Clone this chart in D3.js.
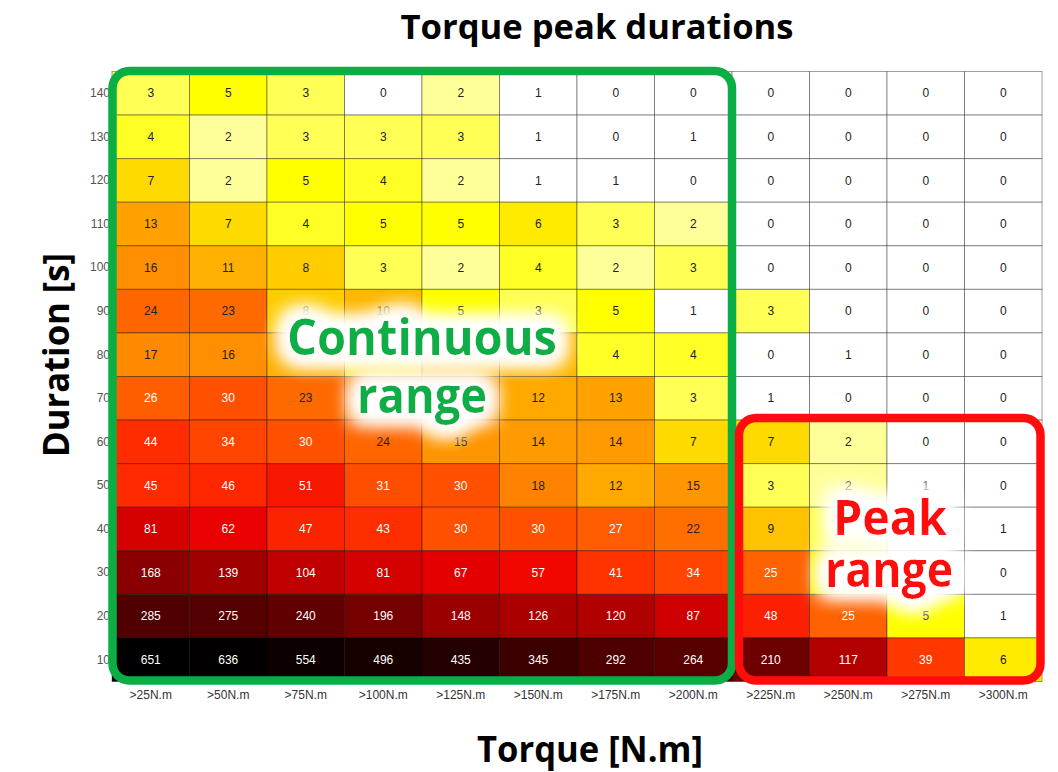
<!DOCTYPE html>
<html>
<head>
<meta charset="utf-8">
<script src="https://cdn.jsdelivr.net/npm/d3@7"></script>
<style>
  html, body { margin: 0; padding: 0; background: #fff; }
  svg { display: block; }
</style>
</head>
<body>
<div id="chart"></div>
<script>
// ---- Data ----
const torqueLabels = [">25N.m", ">50N.m", ">75N.m", ">100N.m", ">125N.m", ">150N.m",
  ">175N.m", ">200N.m", ">225N.m", ">250N.m", ">275N.m", ">300N.m"];
const durations = [140, 130, 120, 110, 100, 90, 80, 70, 60, 50, 40, 30, 20, 10];

const d140 = [3, 5, 3, 0, 2, 1, 0, 0, 0, 0, 0, 0];
const d130 = [4, 2, 3, 3, 3, 1, 0, 1, 0, 0, 0, 0];
const d120 = [7, 2, 5, 4, 2, 1, 1, 0, 0, 0, 0, 0];
const d110 = [13, 7, 4, 5, 5, 6, 3, 2, 0, 0, 0, 0];
const d100 = [16, 11, 8, 3, 2, 4, 2, 3, 0, 0, 0, 0];
const d90  = [24, 23, 8, 10, 5, 3, 5, 1, 3, 0, 0, 0];
const d80  = [17, 16, 11, 7, 10, 10, 4, 4, 0, 1, 0, 0];
const d70  = [26, 30, 23, 20, 15, 12, 13, 3, 1, 0, 0, 0];
const d60  = [44, 34, 30, 24, 15, 14, 14, 7, 7, 2, 0, 0];
const d50  = [45, 46, 51, 31, 30, 18, 12, 15, 3, 2, 1, 0];
const d40  = [81, 62, 47, 43, 30, 30, 27, 22, 9, 3, 0, 1];
const d30  = [168, 139, 104, 81, 67, 57, 41, 34, 25, 6, 1, 0];
const d20  = [285, 275, 240, 196, 148, 126, 120, 87, 48, 25, 5, 1];
const d10  = [651, 636, 554, 496, 435, 345, 292, 264, 210, 117, 39, 6];

const rowsByDuration = {140: d140, 130: d130, 120: d120, 110: d110, 100: d100, 90: d90,
  80: d80, 70: d70, 60: d60, 50: d50, 40: d40, 30: d30, 20: d20, 10: d10};

const continuousCols = [">25N.m", ">200N.m"];
const peakCols = [">225N.m", ">300N.m"];
const peakRows = [60, 10];

// ---- Layout ----
const W = 1058, H = 772;
const svg = d3.select("#chart").append("svg").attr("width", W).attr("height", H)
  .style("font-family", "'Liberation Sans', Arial, sans-serif");

const x = d3.scaleBand().domain(torqueLabels).range([112, 1042]).padding(0);
const y = d3.scaleBand().domain(durations).range([71.5, 681.5]).padding(0);

const color = d3.scaleLog()
  .domain([1, 2, 3, 5, 8, 15, 25, 45, 60, 100, 150, 200, 280, 350, 500, 650])
  .range(["#ffffff", "#ffff99", "#ffff55", "#ffff00", "#ffcc00", "#ff9500", "#ff6200",
          "#ff2a00", "#ee0000", "#c40000", "#990000", "#720000", "#520000", "#3c0000", "#160000", "#000000"])
  .clamp(true);
const fill = v => v <= 0 ? "#ffffff" : color(v);

const cells = [];
durations.forEach(d => rowsByDuration[d].forEach((v, i) => cells.push({d, t: torqueLabels[i], v})));

// defs: glow filter
const defs = svg.append("defs");
function glow(id) {
  const f = defs.append("filter").attr("id", id)
    .attr("x", "-40%").attr("y", "-80%").attr("width", "180%").attr("height", "260%");
  f.append("feMorphology").attr("in", "SourceAlpha").attr("operator", "dilate").attr("radius", 7).attr("result", "dil");
  f.append("feGaussianBlur").attr("in", "dil").attr("stdDeviation", 10).attr("result", "blur");
  f.append("feFlood").attr("flood-color", "#ffffff").attr("result", "white");
  f.append("feComposite").attr("in", "white").attr("in2", "blur").attr("operator", "in").attr("result", "g");
  const m = f.append("feMerge");
  m.append("feMergeNode").attr("in", "g");
  m.append("feMergeNode").attr("in", "g");
  m.append("feMergeNode").attr("in", "g");
  m.append("feMergeNode").attr("in", "SourceGraphic");
}
glow("glow");

// cells
svg.append("g").selectAll("rect").data(cells).join("rect")
  .attr("x", c => x(c.t)).attr("y", c => y(c.d))
  .attr("width", x.bandwidth()).attr("height", y.bandwidth())
  .attr("fill", c => fill(c.v))
  .attr("stroke", "rgba(0,0,0,0.38)").attr("stroke-width", 1);

// cell labels
svg.append("g").selectAll("text").data(cells).join("text")
  .attr("x", c => x(c.t) + x.bandwidth() / 2)
  .attr("y", c => y(c.d) + y.bandwidth() / 2)
  .attr("dy", "0.35em").attr("text-anchor", "middle")
  .attr("font-size", 12)
  .attr("fill", c => c.v >= 25 ? "#ffffff" : "#222222")
  .text(c => c.v);

// axes
const yAxis = d3.axisLeft(y).tickSize(0).tickPadding(2);
const gy = svg.append("g").attr("transform", "translate(112,0)").call(yAxis);
gy.select(".domain").remove();
gy.selectAll("text").attr("font-size", 12).attr("fill", "#555").attr("font-family", "'Liberation Sans', Arial, sans-serif");

const xAxis = d3.axisBottom(x).tickSize(0).tickPadding(9);
const gx = svg.append("g").attr("transform", "translate(0,681.5)").call(xAxis);
gx.select(".domain").remove();
gx.selectAll("text").attr("font-size", 12).attr("fill", "#333").attr("font-family", "'Liberation Sans', Arial, sans-serif");

// range boxes
const green = "#0aae45", red = "#ff0d0d";
svg.append("rect")
  .attr("x", x(continuousCols[0]) + 0.5).attr("y", y(durations[0]) - 0.5)
  .attr("width", x(continuousCols[1]) + x.bandwidth() - x(continuousCols[0]) - 0.5)
  .attr("height", y(durations[durations.length - 1]) + y.bandwidth() - y(durations[0]) - 0.5)
  .attr("rx", 17).attr("ry", 17)
  .attr("fill", "none").attr("stroke", green).attr("stroke-width", 8.5);

svg.append("rect")
  .attr("x", x(peakCols[0]) + 7).attr("y", y(peakRows[0]) - 2)
  .attr("width", x(peakCols[1]) + x.bandwidth() - x(peakCols[0]) - 8.5)
  .attr("height", y(peakRows[1]) + y.bandwidth() - y(peakRows[0]) + 1)
  .attr("rx", 17).attr("ry", 17)
  .attr("fill", "none").attr("stroke", red).attr("stroke-width", 8.5);

// annotations
const boldFont = "'Open Sans', 'Noto Sans', sans-serif";
function label(txt, cx, base, len, size, col) {
  svg.append("text").attr("x", cx).attr("y", base)
    .attr("text-anchor", "middle").attr("font-family", boldFont).attr("font-weight", 700)
    .attr("font-size", size).attr("fill", col)
    .attr("textLength", len).attr("lengthAdjust", "spacingAndGlyphs")
    .attr("filter", "url(#glow)")
    .text(txt);
}
label("Continuous", 422, 355, 270, 50, green);
label("range", 422, 413, 130, 50, green);
label("Peak", 890, 535, 114, 49, red);
label("range", 889, 587, 128, 49, red);

// titles
svg.append("text").attr("x", 597).attr("y", 39).attr("text-anchor", "middle")
  .attr("font-family", boldFont).attr("font-weight", 700).attr("font-size", 34)
  .attr("textLength", 393).attr("lengthAdjust", "spacingAndGlyphs")
  .text("Torque peak durations");

svg.append("text").attr("x", 590).attr("y", 762).attr("text-anchor", "middle")
  .attr("font-family", boldFont).attr("font-weight", 700).attr("font-size", 36)
  .attr("textLength", 226).attr("lengthAdjust", "spacingAndGlyphs")
  .text("Torque [N.m]");

svg.append("text").attr("transform", "translate(69,355) rotate(-90)").attr("text-anchor", "middle")
  .attr("font-family", boldFont).attr("font-weight", 700).attr("font-size", 36)
  .attr("textLength", 204).attr("lengthAdjust", "spacingAndGlyphs")
  .text("Duration [s]");
</script>
</body>
</html>
